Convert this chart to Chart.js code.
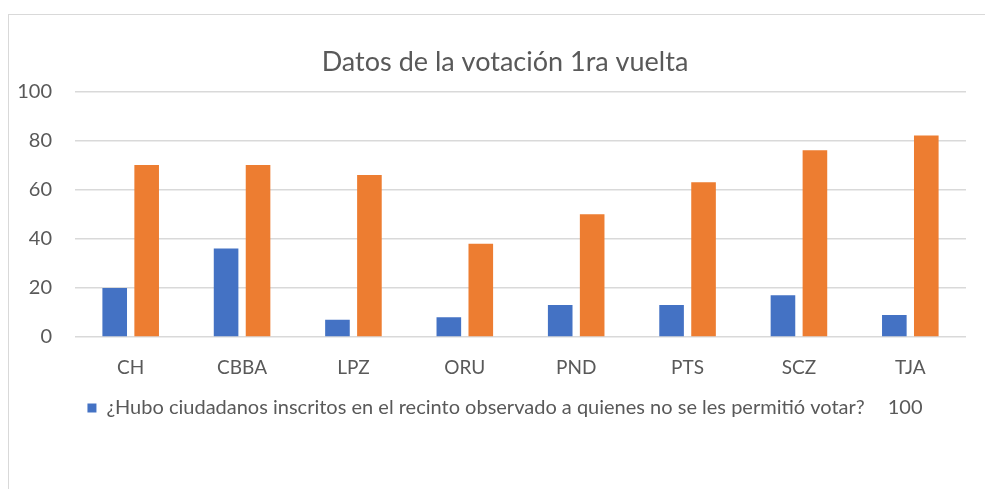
<!DOCTYPE html>
<html>
<head>
<meta charset="utf-8">
<script src="https://cdn.jsdelivr.net/npm/chart.js@4"></script>
<style>
  html, body { margin: 0; padding: 0; background: #fff; overflow: hidden; }
  #wrap { position: relative; width: 985px; height: 489px; overflow: hidden; }
  #frame { position: absolute; left: 8px; top: 14px; width: 1000px; height: 500px;
           border-left: 1.5px solid #d9d9d9; border-top: 1.5px solid #d9d9d9; }
  canvas { position: absolute; left: 0; top: 0; }
</style>
</head>
<body>
<div id="wrap">
  <div id="frame"></div>
  <canvas id="c" width="1010" height="489"></canvas>
</div>
<script>
const categories = ["CH", "CBBA", "LPZ", "ORU", "PND", "PTS", "SCZ", "TJA"];
const seriesNames = ["¿Hubo ciudadanos inscritos en el recinto observado a quienes no se les permitió votar?", "100"];
const seriesBlue = [20, 36, 7, 8, 13, 13, 17, 9];
const seriesOrange = [70, 70, 66, 38, 50, 63, 76, 82];
const yTicks = [0, 20, 40, 60, 80, 100];
const titleText = "Datos de la votación 1ra vuelta";

const FONT = "Lato, 'Open Sans', sans-serif";
const TXT = "#595959";

new Chart(document.getElementById("c"), {
  type: "bar",
  data: {
    labels: categories,
    datasets: [
      { label: seriesNames[0], data: seriesBlue, backgroundColor: "#4472C4",
        categoryPercentage: 0.574, barPercentage: 0.77 },
      { label: seriesNames[1], data: seriesOrange, backgroundColor: "#ED7D31",
        categoryPercentage: 0.574, barPercentage: 0.77 }
    ]
  },
  options: {
    responsive: false,
    animation: false,
    layout: { padding: { left: 0, right: 0, top: 0, bottom: 61 } },
    plugins: {
      tooltip: { enabled: false },
      title: {
        display: true, text: titleText, color: TXT,
        font: { family: FONT, size: 27, weight: "normal" },
        padding: { top: 46, bottom: 13 }
      },
      legend: {
        position: "bottom",
        labels: {
          color: TXT, boxWidth: 9, boxHeight: 9, padding: 4,
          font: { family: FONT, size: 20 },
          generateLabels: (chart) => chart.data.datasets.map((ds, i) => ({
            text: ds.label,
            fillStyle: i === 0 ? ds.backgroundColor : "rgba(0,0,0,0)",
            strokeStyle: "rgba(0,0,0,0)",
            lineWidth: 0,
            fontColor: TXT,
            hidden: false,
            datasetIndex: i
          }))
        }
      }
    },
    scales: {
      x: {
        grid: { display: false, drawTicks: false },
        border: { display: false },
        ticks: { color: TXT, font: { family: FONT, size: 19 }, padding: 19 },
        afterFit: (a) => { a.height = 57; }
      },
      y: {
        min: 0, max: 100,
        afterBuildTicks: (a) => { a.ticks = yTicks.map(v => ({ value: v })); },
        grid: { color: "#d9d9d9", lineWidth: 1.5, drawTicks: false },
        border: { display: false },
        ticks: { color: TXT, font: { family: FONT, size: 20 }, padding: 23 },
        afterFit: (a) => { a.width = 75; }
      },
      yRight: {
        position: "right",
        min: 0, max: 100,
        grid: { display: false, drawTicks: false },
        border: { display: false },
        ticks: { display: false },
        afterFit: (a) => { a.width = 44; }
      }
    }
  }
});
</script>
</body>
</html>
